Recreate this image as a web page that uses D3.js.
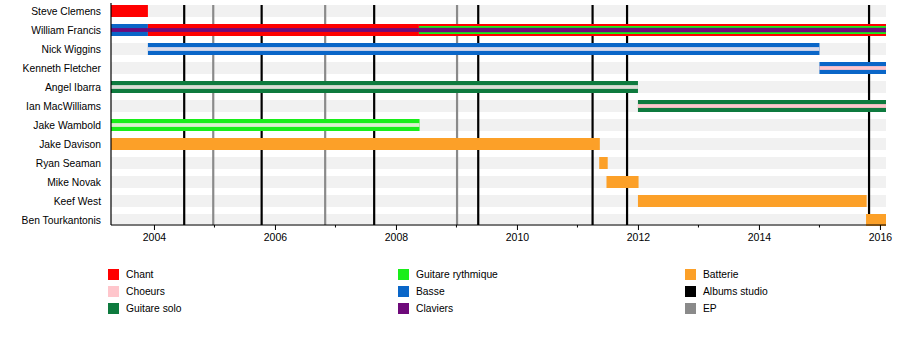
<!DOCTYPE html>
<html>
<head>
<meta charset="utf-8">
<script src="https://cdn.jsdelivr.net/npm/d3@7"></script>
<style>
html,body{margin:0;padding:0;background:#fff;}
svg{display:block;font-family:"Liberation Sans",Arial,sans-serif;}
</style>
</head>
<body>
<svg id="chart" width="900" height="345"></svg>
<script>
// ---------- DATA ----------
const members = ["Steve Clemens","William Francis","Nick Wiggins","Kenneth Fletcher","Angel Ibarra","Ian MacWilliams","Jake Wambold","Jake Davison","Ryan Seaman","Mike Novak","Keef West","Ben Tourkantonis"];

const roles = ["Chant","Choeurs","Guitare solo","Guitare rythmique","Basse","Claviers","Batterie","Albums studio","EP"];
const roleColors = ["#ff0000","#ffc6cc","#0e7a3e","#1aee1a","#0a66c8","#6e0a7a","#fca028","#000000","#8a8a8a"];

const timeStart = 2003.29;
const timeEnd = 2016.10;

// member, start, end, main role, inner roles (outer -> centre)
const periods = [
  ["Steve Clemens", 2003.29, 2003.90, "Chant", []],
  ["William Francis", 2003.29, 2003.90, "Basse", ["Claviers"]],
  ["William Francis", 2003.90, 2008.38, "Chant", ["Claviers"]],
  ["William Francis", 2008.38, 2016.10, "Chant", ["Guitare rythmique","Claviers"]],
  ["Nick Wiggins", 2003.90, 2015.00, "Basse", ["Choeurs"]],
  ["Kenneth Fletcher", 2015.00, 2016.10, "Basse", ["Choeurs"]],
  ["Angel Ibarra", 2003.29, 2012.00, "Guitare solo", ["Choeurs"]],
  ["Ian MacWilliams", 2012.00, 2016.10, "Guitare solo", ["Choeurs"]],
  ["Jake Wambold", 2003.29, 2008.39, "Guitare rythmique", ["Choeurs"]],
  ["Jake Davison", 2003.29, 2011.37, "Batterie", []],
  ["Ryan Seaman", 2011.36, 2011.50, "Batterie", []],
  ["Mike Novak", 2011.48, 2012.01, "Batterie", []],
  ["Keef West", 2012.00, 2015.78, "Batterie", []],
  ["Ben Tourkantonis", 2015.77, 2016.10, "Batterie", []]
];
// members whose backing-vocal stripe appears faint
const faintChoeurs = ["Nick Wiggins","Angel Ibarra","Jake Wambold"];

const albums = [2004.50, 2005.78, 2007.64, 2009.36, 2011.25, 2011.82, 2015.82];
const eps = [2004.98, 2006.83, 2009.01];

const majorTicks = [2004,2006,2008,2010,2012,2014,2016];
const minorTicks = [2005,2007,2009,2011,2013,2015];

// ---------- CHART ----------
const svg = d3.select("#chart");
const color = d3.scaleOrdinal().domain(roles).range(roleColors);

const x = d3.scaleLinear().domain([timeStart, timeEnd]).range([111, 886]);
const y = d3.scaleBand().domain(members).range([1.5, 229.5])
  .paddingInner(7/19).paddingOuter(3.5/19);
const bw = y.bandwidth();
const axisY = 225;

// background stripes
svg.append("g").selectAll("rect").data(members).join("rect")
  .attr("x", x(timeStart)).attr("width", x(timeEnd) - x(timeStart))
  .attr("y", d => y(d)).attr("height", bw)
  .attr("fill", "#f1f1f1");

// event lines
const lineTop = y(members[0]);
svg.append("g").selectAll("line").data(eps).join("line")
  .attr("x1", d => x(d)).attr("x2", d => x(d))
  .attr("y1", lineTop).attr("y2", axisY)
  .attr("stroke", color("EP")).attr("stroke-width", 2.2);
svg.append("g").selectAll("line").data(albums).join("line")
  .attr("x1", d => x(d)).attr("x2", d => x(d))
  .attr("y1", lineTop).attr("y2", axisY)
  .attr("stroke", color("Albums studio")).attr("stroke-width", 2.2);

// bars
const gBars = svg.append("g");
periods.forEach(([m, s, e, main, inner]) => {
  const x0 = x(s), w = x(e) - x(s), top = y(m);
  gBars.append("rect").attr("x", x0).attr("width", w)
    .attr("y", top).attr("height", bw).attr("fill", color(main));
  // inner stripes, nested
  let h = bw;
  const stripeH = inner.length === 2 ? [8, 4.4] : [3.8];
  inner.forEach((r, i) => {
    const sh = stripeH[i];
    let c = color(r);
    if (r === "Choeurs" && faintChoeurs.includes(m)) {
      c = d3.interpolateRgb(d3.interpolateRgb(color(main), "#ffffff")(0.8), color(r))(0.25);
    }
    gBars.append("rect").attr("x", x0).attr("width", w)
      .attr("y", top + (bw - sh) / 2).attr("height", sh).attr("fill", c);
  });
});

// axes
const gx = svg.append("g").attr("transform", `translate(0,${axisY})`);
gx.call(d3.axisBottom(x).tickValues(majorTicks).tickFormat(d3.format("d")).tickSize(5).tickSizeOuter(0))
  .call(g => g.select(".domain").remove());
gx.selectAll(".tick line").attr("stroke", "#000");
gx.selectAll(".tick text").attr("font-size", 10.5).attr("font-family", "Liberation Sans, Arial, sans-serif")
  .attr("fill", "#000").attr("dy", "0.95em").attr("y", 6);
gx.append("g").selectAll("line").data(minorTicks).join("line")
  .attr("x1", d => x(d)).attr("x2", d => x(d)).attr("y1", 0).attr("y2", 2.5)
  .attr("stroke", "#000");
gx.append("line").attr("x1", x(timeStart)).attr("x2", x(timeEnd)).attr("y1", 0).attr("y2", 0)
  .attr("stroke", "#000").attr("stroke-width", 1.2);
svg.append("line").attr("x1", x(timeStart)).attr("x2", x(timeStart))
  .attr("y1", 3).attr("y2", axisY).attr("stroke", "#000").attr("stroke-width", 1.2);

// member labels
svg.append("g").selectAll("text").data(members).join("text")
  .attr("x", 101).attr("y", d => y(d) + bw / 2)
  .attr("dy", "0.35em").attr("text-anchor", "end")
  .attr("font-size", 10.3).attr("fill", "#000").text(d => d);

// legend
const legendCols = [108, 398, 685];
const legendRowY = [269, 286, 303];
const legend = svg.append("g");
roles.forEach((r, i) => {
  const cx = legendCols[Math.floor(i / 3)], ry = legendRowY[i % 3];
  legend.append("rect").attr("x", cx).attr("y", ry).attr("width", 11).attr("height", 11)
    .attr("fill", color(r));
  legend.append("text").attr("x", cx + 18).attr("y", ry + 5.5).attr("dy", "0.35em")
    .attr("font-size", 10.3).attr("fill", "#000").text(r);
});
</script>
</body>
</html>
